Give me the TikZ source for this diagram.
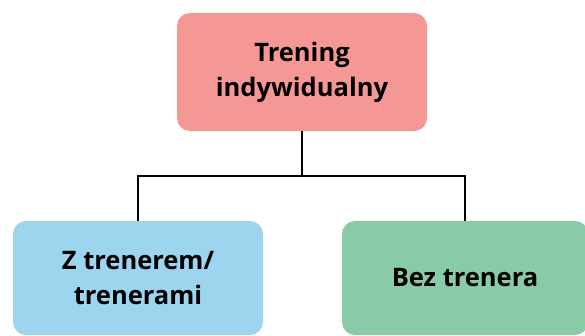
\documentclass[tikz,border=0pt]{standalone}
\usepackage{fontspec}
\setmainfont{Open Sans}
\definecolor{boxred}{HTML}{F59895}
\definecolor{boxblue}{HTML}{9DD4EE}
\definecolor{boxgreen}{HTML}{88CBA6}
\begin{document}
\begin{tikzpicture}[x=1pt,y=-1pt,
  card/.style={draw=none, rounded corners=13pt, inner sep=0pt, align=center,
    font=\fontsize{25.5}{35}\selectfont\bfseries},
  link/.style={draw=black, line width=1.8pt}]
\useasboundingbox (0,0) rectangle (585,335);
\begin{scope}
\clip (0,0) rectangle (585,335);
\node[card, fill=boxred, minimum width=250pt, minimum height=118pt] (top) at (302,72) {Trening\\indywidualny};
\node[card, fill=boxblue, minimum width=250pt, minimum height=114pt] (left) at (138,278) {Z trenerem/\\trenerami};
\node[card, fill=boxgreen, minimum width=246pt, minimum height=114pt] (right) at (465,278) {Bez trenera};
\end{scope}
\coordinate (mid) at (302,176);
\draw[link] (top.south) -- (mid);
\draw[link] (left.north) |- (mid) -| (right.north);
\end{tikzpicture}
\end{document}
